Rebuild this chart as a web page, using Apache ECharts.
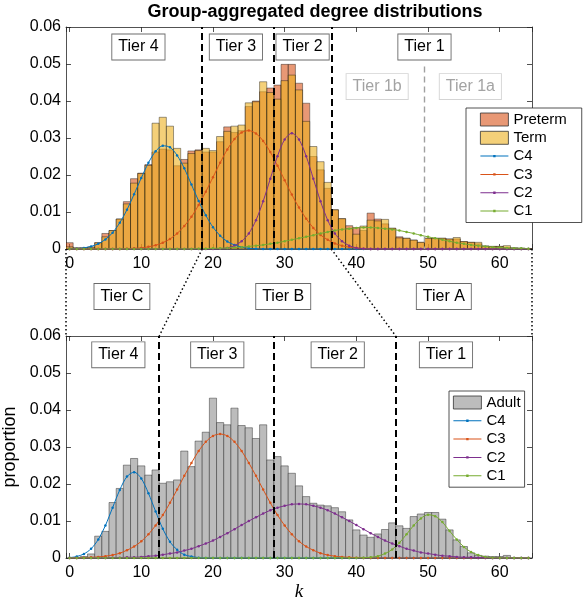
<!DOCTYPE html>
<html><head><meta charset="utf-8">
<script src="https://cdn.jsdelivr.net/npm/echarts@6/dist/echarts.min.js"></script>
<style>html,body{margin:0;padding:0;background:#fff}#c{width:583px;height:602px}</style>
</head><body><div id="c"></div>
<script>
// ---------- data ----------
const bins = [0,1,2,3,4,5,6,7,8,9,10,11,12,13,14,15,16,17,18,19,20,21,22,23,24,25,26,27,28,29,30,31,32,33,34,35,36,37,38,39,40,41,42,43,44,45,46,47,48,49,50,51,52,53,54,55,56,57,58,59,60,61,62,63,64];

const preterm = [0.0017,0.0003,0.0003,0.0005,0.0017,0.0042,0.0050,0.0081,0.0128,0.0190,
 0.0205,0.0228,0.0262,0.0270,0.0268,0.0225,0.0242,0.0265,0.0268,0.0262,
 0.0262,0.0290,0.0330,0.0315,0.0320,0.0385,0.0400,0.0425,0.0435,0.0443,
 0.0499,0.0499,0.0448,0.0394,0.0250,0.0214,0.0164,0.0106,0.0082,0.0063,
 0.0058,0.0050,0.0097,0.0081,0.0068,0.0056,0.0033,0.0029,0.0024,0.0018,
 0.0029,0.0029,0.0029,0.0027,0.0027,0.0020,0.0018,0.0014,0.0008,0.0007,
 0.0007,0.0004,0.0003,0.0002,0.0001];

const term = [0.0006,0.0003,0.0003,0.0005,0.0017,0.0033,0.0050,0.0081,0.0122,0.0178,
 0.0204,0.0226,0.0340,0.0356,0.0332,0.0272,0.0232,0.0258,0.0266,0.0272,
 0.0266,0.0304,0.0318,0.0332,0.0335,0.0395,0.0398,0.0452,0.0423,0.0405,
 0.0455,0.0470,0.0430,0.0345,0.0277,0.0236,0.0180,0.0106,0.0082,0.0055,
 0.0040,0.0062,0.0078,0.0076,0.0080,0.0056,0.0030,0.0029,0.0024,0.0018,
 0.0029,0.0029,0.0029,0.0027,0.0031,0.0020,0.0018,0.0018,0.0008,0.0007,
 0.0007,0.0009,0.0003,0.0002,0.0001];

const adult = [0.0000,0.0001,0.0004,0.0011,0.0059,0.0072,0.0150,0.0188,0.0251,0.0269,
 0.0249,0.0224,0.0238,0.0202,0.0206,0.0211,0.0289,0.0247,0.0316,0.0340,
 0.0432,0.0366,0.0360,0.0405,0.0358,0.0352,0.0323,0.0360,0.0265,0.0274,
 0.0249,0.0229,0.0195,0.0166,0.0148,0.0143,0.0141,0.0136,0.0125,0.0103,
 0.0076,0.0062,0.0056,0.0065,0.0077,0.0095,0.0087,0.0080,0.0112,0.0119,
 0.0123,0.0123,0.0105,0.0076,0.0049,0.0031,0.0014,0.0007,0.0005,0.0004,
 0.0004,0.0007,0.0001,0.0000,0.0000];

// fitted components, top panel (preterm/term)
const c4Top = [0.0001,0.0001,0.0003,0.0007,0.0014,0.0026,0.0044,0.0071,0.0106,0.0148,
 0.0192,0.0233,0.0264,0.0279,0.0275,0.0253,0.0218,0.0174,0.0130,0.0091,
 0.0059,0.0036,0.0020,0.0011,0.0005,0.0002,0.0001,0,0,0,
 0,0,0,0,0,0,0,0,0,0, 0,0,0,0,0,0,0,0,0,0, 0,0,0,0,0,0,0,0,0,0, 0,0,0,0,0];
const c3Top = [0,0,0,0,0,0,0,0,0.0001,0.0002,
 0.0003,0.0006,0.0010,0.0017,0.0027,0.0042,0.0062,0.0087,0.0119,0.0155,
 0.0194,0.0233,0.0269,0.0297,0.0315,0.0320,0.0312,0.0292,0.0262,0.0225,
 0.0186,0.0147,0.0112,0.0082,0.0057,0.0038,0.0025,0.0015,0.0009,0.0005,
 0.0003,0.0001,0,0,0,0,0,0,0,0, 0,0,0,0,0,0,0,0,0,0, 0,0,0,0,0];
const c2Top = [0,0,0,0,0,0,0,0,0,0, 0,0,0,0,0,0,0,0,0,0,
 0,0.0001,0.0003,0.0009,0.0021,0.0042,0.0078,0.0129,0.0190,0.0251,
 0.0296,0.0313,0.0296,0.0251,0.0190,0.0129,0.0078,0.0042,0.0021,0.0009,
 0.0003,0.0001,0,0,0,0,0,0,0,0, 0,0,0,0,0,0,0,0,0,0, 0,0,0,0,0];
const c1Top = [0,0,0,0,0,0,0,0,0,0,
 0,0,0,0,0,0,0,0,0.0001,0.0001,
 0.0002,0.0002,0.0003,0.0004,0.0005,0.0007,0.0009,0.0011,0.0014,0.0017,
 0.0021,0.0025,0.0029,0.0033,0.0037,0.0042,0.0046,0.0050,0.0053,0.0055,
 0.0057,0.0058,0.0058,0.0057,0.0055,0.0053,0.0050,0.0046,0.0042,0.0037,
 0.0033,0.0029,0.0025,0.0021,0.0017,0.0014,0.0011,0.0009,0.0007,0.0005,
 0.0004,0.0003,0.0002,0.0002,0.0001];

// fitted components, bottom panel (adult)
const c4Bot = [0.0001,0.0004,0.0011,0.0025,0.0050,0.0088,0.0136,0.0184,0.0220,0.0232,
 0.0215,0.0175,0.0126,0.0079,0.0044,0.0022,0.0009,0.0004,0.0001,0,
 0,0,0,0,0,0,0,0,0,0, 0,0,0,0,0,0,0,0,0,0, 0,0,0,0,0,0,0,0,0,0, 0,0,0,0,0,0,0,0,0,0, 0,0,0,0,0];
const c3Bot = [0,0,0.0001,0.0002,0.0003,0.0005,0.0008,0.0013,0.0021,0.0031,
 0.0045,0.0064,0.0088,0.0116,0.0149,0.0185,0.0222,0.0257,0.0289,0.0314,
 0.0330,0.0335,0.0330,0.0314,0.0289,0.0257,0.0222,0.0185,0.0149,0.0116,
 0.0088,0.0064,0.0045,0.0031,0.0021,0.0013,0.0008,0.0005,0.0003,0.0002,
 0.0001,0,0,0,0,0,0,0,0,0, 0,0,0,0,0,0,0,0,0,0, 0,0,0,0,0];
const c2Bot = [0,0,0,0,0,0,0.0001,0.0001,0.0002,0.0002,
 0.0003,0.0005,0.0006,0.0009,0.0012,0.0015,0.0020,0.0025,0.0032,0.0039,
 0.0047,0.0057,0.0067,0.0078,0.0089,0.0100,0.0110,0.0120,0.0129,0.0136,
 0.0141,0.0145,0.0146,0.0145,0.0141,0.0136,0.0129,0.0120,0.0110,0.0100,
 0.0089,0.0078,0.0067,0.0057,0.0047,0.0039,0.0032,0.0025,0.0020,0.0015,
 0.0012,0.0009,0.0006,0.0005,0.0003,0.0002,0.0002,0.0001,0.0001,0,
 0,0,0,0,0];
const c1Bot = [0,0,0,0,0,0,0,0,0,0, 0,0,0,0,0,0,0,0,0,0, 0,0,0,0,0,0,0,0,0,0, 0,0,0,0,0,0,0,0,0,0,
 0,0.0001,0.0002,0.0005,0.0012,0.0023,0.0041,0.0064,0.0088,0.0107,
 0.0117,0.0113,0.0097,0.0073,0.0050,0.0030,0.0016,0.0008,0.0003,0.0001,
 0,0,0,0,0];

// tier boundaries and labels
const topBounds = [18.5, 28.5, 36.5];
const topSubBound = [49.5, 0.0493];
const bottomBounds = [12.5, 28.5, 45.5];
const topTierNames = ['Tier 4','Tier 3','Tier 2','Tier 1'];
const topTierX = [9.6, 23.2, 32.5, 49.5];
const topTierY = 0.0546;
const subTierNames = ['Tier 1b','Tier 1a'];
const subTierX = [42.9, 55.9];
const subTierY = 0.0439;
const bottomTierNames = ['Tier 4','Tier 3','Tier 2','Tier 1'];
const bottomTierX = [6.8, 20.6, 37.4, 52.5];
const bottomTierY = 0.0549;
const midTierNames = ['Tier C','Tier B','Tier A'];
const midTierX = [7.3, 29.8, 52.2];
const xTickLabels = ['0','10','20','30','40','50','60'];

// ---------- chart ----------
const FONT = "'Liberation Sans', Arial, Helvetica, sans-serif";
const AX = '#262626';
const COL = {C4:'#0072BD', C3:'#D95319', C2:'#7E2F8E', C1:'#77AC30'};
const chart = echarts.init(document.getElementById('c'), null, {renderer:'canvas'});

function xAx(gi, pos, labels){
  return {type:'value', gridIndex:gi, position:pos, min:-0.5, max:64.5,
    axisLine:{show:true, onZero:false, lineStyle:{color:AX, width:0.8}},
    axisTick:{show:true, inside:true, length:5, lineStyle:{color:AX, width:0.8}},
    axisLabel:{show:labels, color:'#000', fontSize:16, fontFamily:FONT, margin:7,
      formatter: v => (xTickLabels.indexOf(String(v)) >= 0 ? String(v) : '')},
    splitLine:{show:false}};
}
function yAx(gi, pos, labels){
  return {type:'value', gridIndex:gi, position:pos, min:0, max:0.06, interval:0.01,
    axisLine:{show:true, onZero:false, lineStyle:{color:AX, width:0.8}},
    axisTick:{show:true, inside:true, length:5, lineStyle:{color:AX, width:0.8}},
    axisLabel:{show:labels, color:'#000', fontSize:16, fontFamily:FONT, margin:5},
    splitLine:{show:false}};
}
function bars(name, vals, ai, fill){
  return {type:'custom', name, xAxisIndex:ai, yAxisIndex:ai, clip:true, z:2,
    itemStyle:{color:fill},
    data: bins.map((k,i)=>[k, vals[i]]),
    encode:{x:0, y:1},
    renderItem:(params, api)=>{
      const k = api.value(0), v = api.value(1);
      const p0 = api.coord([k-0.5, v]), p1 = api.coord([k+0.5, 0]);
      return {type:'rect', shape:{x:p0[0], y:p0[1], width:p1[0]-p0[0], height:p1[1]-p0[1]},
        style:{fill, stroke:'rgba(20,20,20,0.6)', lineWidth:0.7}};
    }};
}
function curve(name, vals, ai){
  return {type:'line', name, xAxisIndex:ai, yAxisIndex:ai, z:3,
    data: bins.map((k,i)=>[k, vals[i]]),
    smooth:0.3, symbol:'circle', symbolSize:2.5, showSymbol:true, showAllSymbol:true,
    lineStyle:{color:COL[name], width:1}, itemStyle:{color:COL[name]}, clip:true};
}
function bounds(ai, list, extra){
  const d = list.map(x=>({xAxis:x}));
  const ml = {symbol:['none','none'], silent:true, label:{show:false},
    lineStyle:{color:'#000', width:2, type:[7,4]}, data:d};
  if (extra) d.push([{coord:[extra[0], extra[1]], lineStyle:{color:'#a0a0a0', width:1.4, type:[6,4]}},
                     {coord:[extra[0], 0]}]);
  return {type:'line', name:'_b'+ai, xAxisIndex:ai, yAxisIndex:ai, data:[], z:5, markLine:ml};
}
const lineIcon = 'path://M0,5.5 L28,5.5 L28,6.5 L0,6.5 Z M12.8,4.8 L15.2,4.8 L15.2,7.2 L12.8,7.2 Z';
function legendItems(first){
  return first.concat(['C4','C3','C2','C1'].map(n=>({name:n, icon:lineIcon, itemStyle:{color:COL[n]}})));
}
const legendBase = {orient:'vertical', itemWidth:28, itemHeight:13, itemGap:3.3, selectedMode:false,
  backgroundColor:'#fff', borderColor:AX, borderWidth:0.8, borderRadius:0, symbolKeepAspect:true,
  textStyle:{fontSize:15, color:'#000', fontFamily:FONT}};

const option = {
  animation:false,
  backgroundColor:'#fff',
  grid:[{left:66, width:466, top:27, height:222, containLabel:false, outerBoundsMode:'none'},
        {left:66, width:466, top:336, height:222, containLabel:false, outerBoundsMode:'none'}],
  xAxis:[xAx(0,'bottom',true), xAx(0,'top',false),
         Object.assign(xAx(1,'bottom',true), {name:'k', nameLocation:'middle', nameGap:24,
            nameTextStyle:{fontFamily:"'Liberation Serif', 'Times New Roman', serif", fontStyle:'italic', fontSize:19, color:'#000'}}),
         xAx(1,'top',false)],
  yAxis:[yAx(0,'left',true), yAx(0,'right',false),
         Object.assign(yAx(1,'left',true), {name:'proportion', nameLocation:'middle', nameGap:37,
            nameTextStyle:{fontFamily:FONT, fontSize:18, color:'#000'}}),
         yAx(1,'right',false)],
  legend:[
    Object.assign({}, legendBase, {left:466, top:108, padding:[4,15,4,14],
      data:legendItems([
        {name:'Preterm', icon:'rect', itemStyle:{color:'rgb(232,152,117)', borderColor:'#333', borderWidth:0.8}},
        {name:'Term', icon:'rect', itemStyle:{color:'rgb(244,208,121)', borderColor:'#333', borderWidth:0.8}}])}),
    Object.assign({}, legendBase, {left:449, top:391, padding:[4,4,4,4],
      data:legendItems([{name:'Adult', icon:'rect', itemStyle:{color:'rgb(188,188,188)', borderColor:'#333', borderWidth:0.8}}])})
  ],
  series:[
    bars('Preterm', preterm, 0, 'rgba(217,83,25,0.6)'),
    bars('Term', term, 0, 'rgba(237,177,32,0.6)'),
    curve('C4', c4Top, 0), curve('C3', c3Top, 0), curve('C2', c2Top, 0), curve('C1', c1Top, 0),
    bounds(0, topBounds, topSubBound),
    bars('Adult', adult, 2, 'rgb(188,188,188)'),
    curve('C4', c4Bot, 2), curve('C3', c3Bot, 2), curve('C2', c2Bot, 2), curve('C1', c1Bot, 2),
    bounds(2, bottomBounds, null)
  ]
};
chart.setOption(option);

// ---------- annotations positioned through the axes ----------
const toTop = p => chart.convertToPixel({gridIndex:0}, p);
const toBot = p => chart.convertToPixel({gridIndex:1}, p);
function box(text, pt, gray){
  return {type:'text', x:pt[0], y:pt[1], z:100,
    style:{text, font:'16px ' + FONT, fill: gray ? '#a3a3a3' : '#000', align:'center', verticalAlign:'middle',
      backgroundColor:'#fff', borderColor: gray ? '#d4d4d4' : '#6a6a6a', borderWidth:0.9, padding:[5,6,4,6]}};
}
const g = [];
g.push({type:'text', x:315, y:12, z:100, style:{text:'Group-aggregated degree distributions',
  font:'bold 18px ' + FONT, fill:'#000', align:'center', verticalAlign:'middle'}});
topTierNames.forEach((t,i)=>g.push(box(t, toTop([topTierX[i], topTierY]), false)));
subTierNames.forEach((t,i)=>g.push(box(t, toTop([subTierX[i], subTierY]), true)));
bottomTierNames.forEach((t,i)=>g.push(box(t, toBot([bottomTierX[i], bottomTierY]), false)));
const yTopBase = toTop([0,0])[1], yBotTop = toBot([0,0.06])[1];
const yMid = (yTopBase + yBotTop) / 2 + 4;
midTierNames.forEach((t,i)=>g.push(box(t, [toTop([midTierX[i],0])[0], yMid], false)));
const dotted = {stroke:'#000', lineWidth:1.5, lineDash:[1.5,2.5]};
const pairs = [[-0.5,-0.5],[topBounds[0],bottomBounds[0]],[topBounds[2],bottomBounds[2]],[64.5,64.5]];
pairs.forEach(p=>{
  const a = toTop([p[0],0]), b = toBot([p[1],0.06]);
  g.push({type:'line', z:90, shape:{x1:a[0], y1:a[1], x2:b[0], y2:b[1]}, style:dotted});
});
chart.setOption({graphic:g});
</script></body></html>
